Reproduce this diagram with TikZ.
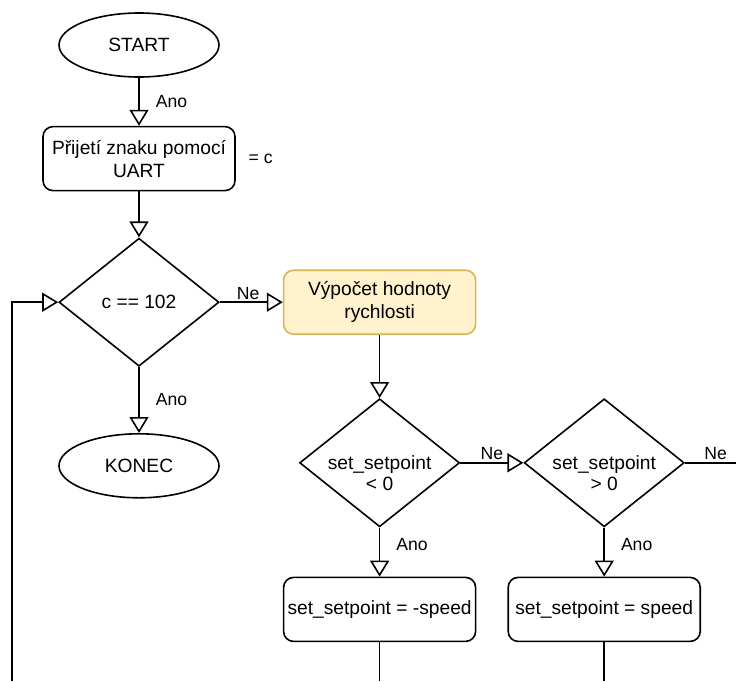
\documentclass[tikz,border=0pt]{standalone}
\usepackage{fontspec}
\setmainfont{Liberation Sans}
\usepackage{xcolor}
\usepackage{tikz}
\usetikzlibrary{arrows.meta, shapes.geometric, positioning}

\definecolor{calcfill}{HTML}{FFF2CC}
\definecolor{calcdraw}{HTML}{D6B656}

\begin{document}
\begin{tikzpicture}[
  x=1pt, y=1pt,
  line width=1.6pt,
  terminal/.style = {
    ellipse, draw=black, fill=white,
    minimum width=160pt, minimum height=64pt,
    inner sep=0pt, font=\fontsize{19.2}{22}\selectfont
  },
  box/.style = {
    rectangle, rounded corners=10pt,
    draw=black, fill=white,
    minimum width=192pt, minimum height=64pt,
    align=center, inner sep=2pt,
    font=\fontsize{19.2}{23}\selectfont
  },
  calcbox/.style = {box, draw=calcdraw, fill=calcfill},
  decision/.style = {
    diamond, draw=black, fill=white,
    minimum width=160pt, minimum height=128pt,
    inner sep=0pt, align=center,
    font=\fontsize{19.2}{22}\selectfont
  },
  dectext/.style = {
    align=center, yshift=-10pt,
    font=\fontsize{19.2}{21}\selectfont
  },
  arr/.style = {-{Triangle[open, length=16pt, width=19pt]}},
  edgelbl/.style = {font=\fontsize{17.6}{20}\selectfont, inner sep=2pt}
]
\coordinate (nw) at (0,0);
\coordinate (se) at (736,-681);
\useasboundingbox (nw) rectangle (se);

\node[terminal] (start) at (139,-45) {START};
\node[box, below=48pt of start] (uart) {Přijetí znaku pomocí\\UART};
\node[edgelbl, right=10pt of uart] (eqc) {= c};
\node[decision, below=46pt of uart] (test) {c == 102};
\node[terminal, below=66pt of test] (konec) {KONEC};
\node[calcbox, right=63pt of test] (calc) {Výpočet hodnoty\\rychlosti};
\node[decision, below=63pt of calc,
      label={[dectext]center:set\_setpoint\\< 0}] (neg) {};
\node[decision, right=63pt of neg,
      label={[dectext]center:set\_setpoint\\> 0}] (pos) {};
\node[box, below=49pt of neg] (setneg) {set\_setpoint = -speed};
\node[box, below=49pt of pos] (setpos) {set\_setpoint = speed};
\coordinate (loop) at (12,-681);

\draw[arr] (start) -- node[edgelbl, right=14pt] {Ano} (uart);
\draw[arr] (uart) -- (test);
\draw[arr] (test) -- node[edgelbl, above, pos=0.45] {Ne} (calc);
\draw[arr] (test) -- node[edgelbl, right=14pt] {Ano} (konec);
\draw[arr] (loop) |- (test.west);
\draw[arr] (calc) -- (neg);
\draw[arr] (neg) -- node[edgelbl, above] {Ne} (pos);
\draw (pos.east) -- node[edgelbl, above, pos=0.6] {Ne} (pos.east -| se);
\draw[arr] (neg) -- node[edgelbl, right=14pt, pos=0.35] {Ano} (setneg);
\draw[arr] (pos) -- node[edgelbl, right=14pt, pos=0.35] {Ano} (setpos);
\draw (setneg) -- (setneg.south |- se);
\draw (setpos) -- (setpos.south |- se);
\end{tikzpicture}
\end{document}
